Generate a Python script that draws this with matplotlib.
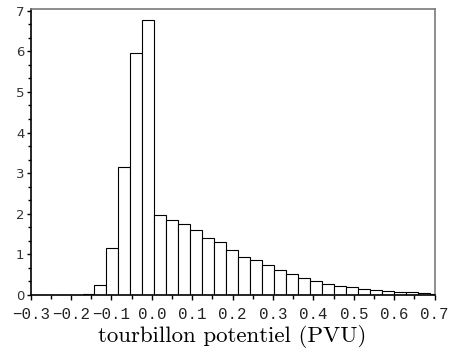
import matplotlib
matplotlib.use("Agg")
import matplotlib.pyplot as plt
from matplotlib.ticker import MultipleLocator, FuncFormatter

# Histogram data (normalised density), bins of equal width
bin_start = -0.2014
bin_width = 0.0297
densities = [0.01, 0.035, 0.25, 1.15, 3.16, 5.95, 6.78,
             1.96, 1.855, 1.75, 1.61, 1.41, 1.30, 1.10, 0.94, 0.87, 0.73,
             0.62, 0.505, 0.41, 0.34, 0.28, 0.225, 0.19, 0.16, 0.125, 0.09,
             0.078, 0.062, 0.045, 0.03]
xlabel = "tourbillon potentiel (PVU)"

lefts = [bin_start + i * bin_width for i in range(len(densities))]

fig = plt.figure(figsize=(4.5, 3.49), dpi=100)
ax = fig.add_axes([0.0682, 0.1547, 0.8974, 0.8181])

ax.bar(lefts, densities, width=bin_width, align='edge', facecolor='white',
       edgecolor='black', linewidth=0.8)

ax.set_xlim(-0.3, 0.7)
ax.set_ylim(0, 7.03)

ax.xaxis.set_major_locator(MultipleLocator(0.1))
ax.xaxis.set_minor_locator(MultipleLocator(0.05))
ax.yaxis.set_major_locator(MultipleLocator(1))
ax.yaxis.set_minor_locator(MultipleLocator(1/3))

ax.xaxis.set_major_formatter(FuncFormatter(lambda v, p: ("%.1f" % v).replace("-", "\u2212") if abs(v) > 1e-9 else "0.0"))

ax.tick_params(axis='x', which='major', length=3.5, width=1, direction='out', pad=5)
ax.tick_params(axis='x', which='minor', length=3, width=1, direction='out')
ax.tick_params(axis='y', which='major', length=3, width=1, direction='out', pad=1.5)
ax.tick_params(axis='y', which='minor', length=2.5, width=1, direction='out')

for lab in ax.get_xticklabels():
    lab.set_fontfamily('Liberation Mono')
    lab.set_fontsize(11.3)
    lab.set_color('#222222')
for lab in ax.get_yticklabels():
    lab.set_fontfamily('DejaVu Sans')
    lab.set_fontsize(9.5)
    lab.set_color('#333333')

ax.spines['left'].set_color('black')
ax.spines['bottom'].set_color('black')
ax.spines['left'].set_linewidth(1.2)
ax.spines['bottom'].set_linewidth(1.2)
ax.spines['top'].set_color('#7a7a7a')
ax.spines['right'].set_color('#7a7a7a')
ax.spines['top'].set_linewidth(1.2)
ax.spines['right'].set_linewidth(1.2)

ax.set_xlabel(xlabel, fontfamily='cmr10', fontsize=16.5, labelpad=2)

fig.savefig("out.png", dpi=100)
